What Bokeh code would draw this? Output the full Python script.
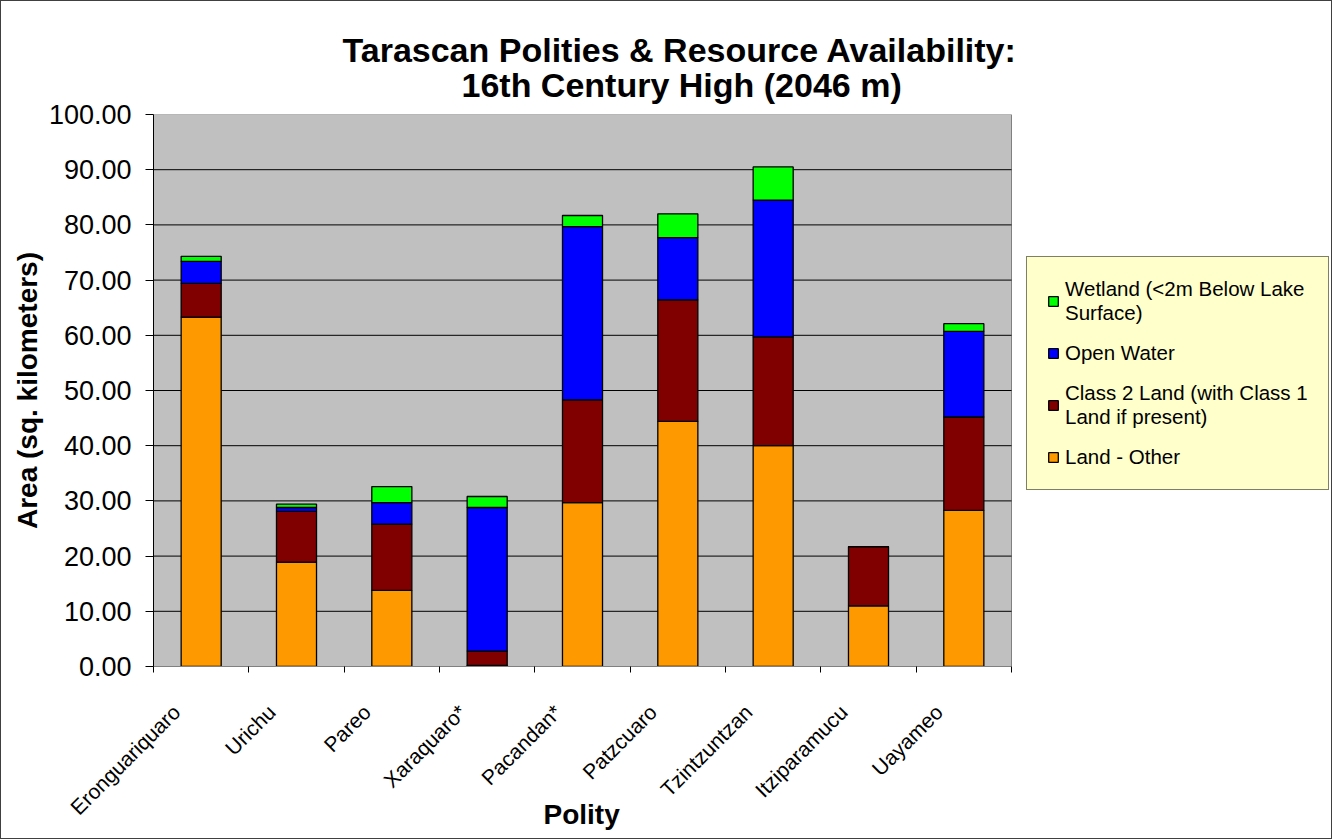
import numpy as np
from math import pi

from bokeh.plotting import figure
from bokeh.models import (ColumnDataSource, Range1d, FixedTicker, NumeralTickFormatter,
                          Legend, LegendItem, Title)
from bokeh.embed import file_html
from bokeh.resources import INLINE

# ---- data (sq. kilometers) ----
polities = ["Eronguariquaro", "Urichu", "Pareo", "Xaraquaro*", "Pacandan*",
            "Patzcuaro", "Tzintzuntzan", "Itziparamucu", "Uayameo"]
land_other = [63.3, 18.9, 13.8, 0.2, 29.7, 44.4, 40.0, 11.0, 28.3]
class2_land = [6.1, 9.2, 12.0, 2.6, 18.6, 22.0, 19.7, 10.7, 16.9]
open_water = [4.0, 0.7, 3.9, 26.0, 31.4, 11.3, 24.8, 0.0, 15.5]
wetland = [0.9, 0.6, 2.9, 2.0, 2.0, 4.3, 6.0, 0.0, 1.4]

series_keys = ["land_other", "class2_land", "open_water", "wetland"]
series_names = ["Land - Other", "Class 2 Land (with Class 1\nLand if present)",
                "Open Water", "Wetland (<2m Below Lake\nSurface)"]
series_colors = ["#FF9900", "#800000", "#0000FF", "#00FF00"]
y_ticks = [0, 10, 20, 30, 40, 50, 60, 70, 80, 90, 100]

FONT = "Liberation Sans"
W, H = 1332, 839
# the grey plot area spans canvas x 152..1010, y 113..665; the frame runs on
# to the right edge so the legend can sit beside the plot area
FL, FT, PR, FR, FB = 152, 113, 1010, 1330, 665

n = len(polities)
centers = np.arange(n) + 0.5
x_end = n * (FR - FL) / (PR - FL)
source = ColumnDataSource(dict(x=centers, land_other=land_other, class2_land=class2_land,
                               open_water=open_water, wetland=wetland))

p = figure(width=W, height=H, output_backend="svg", toolbar_location=None,
           x_range=Range1d(0, x_end), y_range=Range1d(0, 100),
           min_border_left=FL, min_border_right=W - FR,
           min_border_top=FT, min_border_bottom=H - FB)
p.background_fill_color = "white"
p.border_fill_color = "white"
p.outline_line_color = None
p.styles = {"border": "1.5px solid #404040", "box-sizing": "border-box"}

# grey plot area and its horizontal gridlines
p.quad(left=0, right=n, bottom=y_ticks[0], top=y_ticks[-1], fill_color="#C0C0C0",
       line_color="#808080", line_width=1, level="underlay")
inner = y_ticks[1:-1]
p.segment(x0=[0] * len(inner), y0=inner, x1=[n] * len(inner), y1=inner,
          line_color="black", line_width=1, level="underlay")

renderers = p.vbar_stack(series_keys, x="x", width=0.42, source=source,
                         color=series_colors, line_color="black", line_width=1.3)

p.xgrid.grid_line_color = None
p.ygrid.grid_line_color = None

# y axis
p.yaxis.ticker = FixedTicker(ticks=y_ticks)
p.yaxis.formatter = NumeralTickFormatter(format="0.00")
p.yaxis.major_label_text_font = FONT
p.yaxis.major_label_text_font_size = "27px"
p.yaxis.major_label_text_color = "black"
p.yaxis.major_tick_out = 8
p.yaxis.major_tick_in = 0
p.yaxis.minor_tick_line_color = None
p.yaxis.major_label_standoff = 14
p.yaxis.axis_line_color = "black"
p.yaxis.axis_label = "Area (sq. kilometers)"
p.yaxis.axis_label_text_font = FONT
p.yaxis.axis_label_text_font_size = "28px"
p.yaxis.axis_label_text_font_style = "bold"
p.yaxis.axis_label_text_color = "black"
p.yaxis.axis_label_standoff = 3

# x axis: slanted names ending just left of each bar, tick marks on category boundaries
name_pos = [float(c - 0.26) for c in centers]
p.xaxis.bounds = (0, n)
p.xaxis.ticker = FixedTicker(ticks=name_pos, minor_ticks=list(range(n + 1)))
p.xaxis.major_label_overrides = dict(zip(name_pos, polities))
p.xaxis.major_label_orientation = pi / 4
p.xaxis.major_label_text_font = FONT
p.xaxis.major_label_text_font_size = "21px"
p.xaxis.major_label_text_color = "black"
p.xaxis.major_label_standoff = 36
p.xaxis.major_tick_out = 0
p.xaxis.major_tick_in = 0
p.xaxis.major_tick_line_color = None
p.xaxis.minor_tick_out = 6
p.xaxis.minor_tick_in = 0
p.xaxis.minor_tick_line_color = "black"
p.xaxis.axis_line_color = "#808080"

# x-axis title, centred under the plot area
p.add_layout(Title(text="Polity", align="left", offset=390, standoff=-64,
                   vertical_align="top", text_font=FONT, text_font_size="28px",
                   text_font_style="bold", text_color="black"), "below")

# two-line title (the later one sits on top)
for txt, off, stand in [("16th Century High (2046 m)", 308, 22),
                        ("Tarascan Polities & Resource Availability:", 189, -33)]:
    p.add_layout(Title(text=txt, align="left", offset=off, standoff=stand,
                       text_font=FONT, text_font_size="34px", text_font_style="bold",
                       text_color="black"), "above")

# legend beside the plot area, top entry first
items = [LegendItem(label=series_names[k], renderers=[renderers[k]]) for k in (3, 2, 1, 0)]
legend = Legend(items=items, location=(1025 - FL, FB - 489), orientation="vertical",
                label_text_font=FONT, label_text_font_size="20.5px", label_text_color="black",
                glyph_width=12, glyph_height=12, label_standoff=6,
                padding=20, spacing=16, margin=0,
                border_line_color="black", border_line_width=1,
                background_fill_color="#FFFFCC", background_fill_alpha=1)
p.add_layout(legend)

open("out.html", "w").write(file_html(p, INLINE))
